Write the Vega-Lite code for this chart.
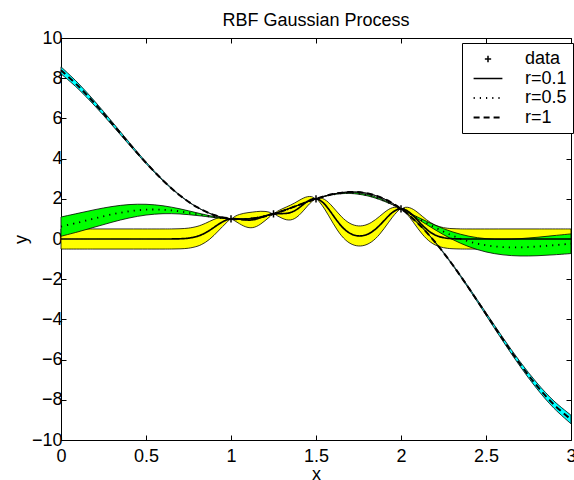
{
  "$schema": "https://vega.github.io/schema/vega-lite/v6.json",
  "width": 510,
  "height": 402,
  "autosize": {"type": "none"},
  "padding": {"left": 61, "top": 38, "right": 3, "bottom": 40},
  "background": "white",
  "title": {"text": "RBF Gaussian Process", "fontSize": 18, "font": "Liberation Sans", "fontWeight": "normal", "color": "black", "anchor": "middle", "baseline": "alphabetic", "offset": -15},
  "config": {
    "view": {"stroke": "black", "strokeWidth": 1},
    "font": "Liberation Sans",
    "axis": {"domain": false, "grid": false, "ticks": true, "tickSize": -5, "tickColor": "black", "tickWidth": 1, "labelFontSize": 18, "labelColor": "black", "labelFont": "Liberation Sans", "titleFontSize": 18, "titleFont": "Liberation Sans", "titleFontWeight": "normal", "titleColor": "black"}
  },
  "datasets": {
    "gp": [
      {"s": "r=0.1", "x": 0, "m": 0, "lo": -0.5, "hi": 0.5},
      {"s": "r=0.1", "x": 0.2, "m": 0, "lo": -0.5, "hi": 0.5},
      {"s": "r=0.1", "x": 0.4, "m": 0, "lo": -0.5, "hi": 0.5},
      {"s": "r=0.1", "x": 0.6, "m": 0, "lo": -0.5, "hi": 0.5},
      {"s": "r=0.1", "x": 0.65, "m": 0.002, "lo": -0.498, "hi": 0.502},
      {"s": "r=0.1", "x": 0.7, "m": 0.011, "lo": -0.489, "hi": 0.511},
      {"s": "r=0.1", "x": 0.75, "m": 0.042, "lo": -0.458, "hi": 0.542},
      {"s": "r=0.1", "x": 0.8, "m": 0.129, "lo": -0.366, "hi": 0.624},
      {"s": "r=0.1", "x": 0.825, "m": 0.206, "lo": -0.282, "hi": 0.694},
      {"s": "r=0.1", "x": 0.85, "m": 0.309, "lo": -0.164, "hi": 0.782},
      {"s": "r=0.1", "x": 0.875, "m": 0.436, "lo": -0.008, "hi": 0.881},
      {"s": "r=0.1", "x": 0.9, "m": 0.579, "lo": 0.182, "hi": 0.977},
      {"s": "r=0.1", "x": 0.925, "m": 0.724, "lo": 0.396, "hi": 1.052},
      {"s": "r=0.1", "x": 0.95, "m": 0.852, "lo": 0.616, "hi": 1.088},
      {"s": "r=0.1", "x": 0.975, "m": 0.947, "lo": 0.822, "hi": 1.072},
      {"s": "r=0.1", "x": 1.0, "m": 1.0, "lo": 1.0, "hi": 1.0},
      {"s": "r=0.1", "x": 1.025, "m": 1.011, "lo": 0.887, "hi": 1.135},
      {"s": "r=0.1", "x": 1.05, "m": 0.991, "lo": 0.76, "hi": 1.222},
      {"s": "r=0.1", "x": 1.075, "m": 0.961, "lo": 0.645, "hi": 1.276},
      {"s": "r=0.1", "x": 1.1, "m": 0.942, "lo": 0.573, "hi": 1.311},
      {"s": "r=0.1", "x": 1.125, "m": 0.951, "lo": 0.564, "hi": 1.338},
      {"s": "r=0.1", "x": 1.15, "m": 0.994, "lo": 0.625, "hi": 1.363},
      {"s": "r=0.1", "x": 1.175, "m": 1.063, "lo": 0.748, "hi": 1.379},
      {"s": "r=0.1", "x": 1.2, "m": 1.141, "lo": 0.91, "hi": 1.372},
      {"s": "r=0.1", "x": 1.225, "m": 1.209, "lo": 1.084, "hi": 1.334},
      {"s": "r=0.1", "x": 1.25, "m": 1.25, "lo": 1.25, "hi": 1.25},
      {"s": "r=0.1", "x": 1.275, "m": 1.265, "lo": 1.14, "hi": 1.39},
      {"s": "r=0.1", "x": 1.3, "m": 1.266, "lo": 1.035, "hi": 1.497},
      {"s": "r=0.1", "x": 1.325, "m": 1.275, "lo": 0.959, "hi": 1.591},
      {"s": "r=0.1", "x": 1.35, "m": 1.317, "lo": 0.948, "hi": 1.686},
      {"s": "r=0.1", "x": 1.375, "m": 1.408, "lo": 1.021, "hi": 1.795},
      {"s": "r=0.1", "x": 1.4, "m": 1.548, "lo": 1.179, "hi": 1.917},
      {"s": "r=0.1", "x": 1.425, "m": 1.716, "lo": 1.4, "hi": 2.032},
      {"s": "r=0.1", "x": 1.45, "m": 1.874, "lo": 1.643, "hi": 2.105},
      {"s": "r=0.1", "x": 1.475, "m": 1.98, "lo": 1.855, "hi": 2.105},
      {"s": "r=0.1", "x": 1.5, "m": 2.0, "lo": 2.0, "hi": 2.0},
      {"s": "r=0.1", "x": 1.525, "m": 1.917, "lo": 1.792, "hi": 2.042},
      {"s": "r=0.1", "x": 1.55, "m": 1.734, "lo": 1.498, "hi": 1.97},
      {"s": "r=0.1", "x": 1.575, "m": 1.479, "lo": 1.151, "hi": 1.807},
      {"s": "r=0.1", "x": 1.6, "m": 1.186, "lo": 0.789, "hi": 1.584},
      {"s": "r=0.1", "x": 1.625, "m": 0.896, "lo": 0.451, "hi": 1.341},
      {"s": "r=0.1", "x": 1.65, "m": 0.637, "lo": 0.164, "hi": 1.11},
      {"s": "r=0.1", "x": 1.675, "m": 0.43, "lo": -0.058, "hi": 0.918},
      {"s": "r=0.1", "x": 1.7, "m": 0.281, "lo": -0.214, "hi": 0.776},
      {"s": "r=0.1", "x": 1.725, "m": 0.19, "lo": -0.308, "hi": 0.688},
      {"s": "r=0.1", "x": 1.75, "m": 0.152, "lo": -0.347, "hi": 0.651},
      {"s": "r=0.1", "x": 1.775, "m": 0.164, "lo": -0.334, "hi": 0.662},
      {"s": "r=0.1", "x": 1.8, "m": 0.225, "lo": -0.27, "hi": 0.72},
      {"s": "r=0.1", "x": 1.825, "m": 0.335, "lo": -0.153, "hi": 0.823},
      {"s": "r=0.1", "x": 1.85, "m": 0.491, "lo": 0.018, "hi": 0.964},
      {"s": "r=0.1", "x": 1.875, "m": 0.688, "lo": 0.244, "hi": 1.133},
      {"s": "r=0.1", "x": 1.9, "m": 0.91, "lo": 0.513, "hi": 1.308},
      {"s": "r=0.1", "x": 1.925, "m": 1.132, "lo": 0.804, "hi": 1.46},
      {"s": "r=0.1", "x": 1.95, "m": 1.324, "lo": 1.089, "hi": 1.559},
      {"s": "r=0.1", "x": 1.975, "m": 1.454, "lo": 1.331, "hi": 1.577},
      {"s": "r=0.1", "x": 2.0, "m": 1.5, "lo": 1.5, "hi": 1.5},
      {"s": "r=0.1", "x": 2.025, "m": 1.454, "lo": 1.331, "hi": 1.577},
      {"s": "r=0.1", "x": 2.05, "m": 1.324, "lo": 1.089, "hi": 1.559},
      {"s": "r=0.1", "x": 2.075, "m": 1.132, "lo": 0.804, "hi": 1.46},
      {"s": "r=0.1", "x": 2.1, "m": 0.91, "lo": 0.513, "hi": 1.308},
      {"s": "r=0.1", "x": 2.125, "m": 0.687, "lo": 0.243, "hi": 1.132},
      {"s": "r=0.1", "x": 2.15, "m": 0.487, "lo": 0.014, "hi": 0.96},
      {"s": "r=0.1", "x": 2.175, "m": 0.325, "lo": -0.163, "hi": 0.813},
      {"s": "r=0.1", "x": 2.2, "m": 0.203, "lo": -0.292, "hi": 0.698},
      {"s": "r=0.1", "x": 2.225, "m": 0.119, "lo": -0.379, "hi": 0.617},
      {"s": "r=0.1", "x": 2.25, "m": 0.066, "lo": -0.433, "hi": 0.565},
      {"s": "r=0.1", "x": 2.275, "m": 0.034, "lo": -0.466, "hi": 0.534},
      {"s": "r=0.1", "x": 2.3, "m": 0.017, "lo": -0.483, "hi": 0.517},
      {"s": "r=0.1", "x": 2.35, "m": 0.003, "lo": -0.497, "hi": 0.503},
      {"s": "r=0.1", "x": 2.4, "m": 0, "lo": -0.5, "hi": 0.5},
      {"s": "r=0.1", "x": 2.6, "m": 0, "lo": -0.5, "hi": 0.5},
      {"s": "r=0.1", "x": 2.8, "m": 0, "lo": -0.5, "hi": 0.5},
      {"s": "r=0.1", "x": 3.0, "m": 0, "lo": -0.5, "hi": 0.5},
      {"s": "r=0.5", "x": 0, "m": 0.615, "lo": 0.136, "hi": 1.094},
      {"s": "r=0.5", "x": 0.1, "m": 0.817, "lo": 0.356, "hi": 1.278},
      {"s": "r=0.5", "x": 0.2, "m": 1.029, "lo": 0.597, "hi": 1.461},
      {"s": "r=0.5", "x": 0.3, "m": 1.225, "lo": 0.835, "hi": 1.615},
      {"s": "r=0.5", "x": 0.4, "m": 1.378, "lo": 1.044, "hi": 1.712},
      {"s": "r=0.5", "x": 0.5, "m": 1.459, "lo": 1.191, "hi": 1.727},
      {"s": "r=0.5", "x": 0.6, "m": 1.456, "lo": 1.259, "hi": 1.653},
      {"s": "r=0.5", "x": 0.7, "m": 1.372, "lo": 1.245, "hi": 1.499},
      {"s": "r=0.5", "x": 0.8, "m": 1.235, "lo": 1.168, "hi": 1.302},
      {"s": "r=0.5", "x": 0.9, "m": 1.092, "lo": 1.068, "hi": 1.116},
      {"s": "r=0.5", "x": 0.95, "m": 1.037, "lo": 1.025, "hi": 1.049},
      {"s": "r=0.5", "x": 1.0, "m": 1.0, "lo": 1.0, "hi": 1.0},
      {"s": "r=0.5", "x": 1.1, "m": 1.008, "lo": 1.001, "hi": 1.015},
      {"s": "r=0.5", "x": 1.2, "m": 1.14, "lo": 1.136, "hi": 1.144},
      {"s": "r=0.5", "x": 1.3, "m": 1.385, "lo": 1.382, "hi": 1.388},
      {"s": "r=0.5", "x": 1.4, "m": 1.696, "lo": 1.69, "hi": 1.702},
      {"s": "r=0.5", "x": 1.5, "m": 2.0, "lo": 2.0, "hi": 2.0},
      {"s": "r=0.5", "x": 1.6, "m": 2.22, "lo": 2.207, "hi": 2.233},
      {"s": "r=0.5", "x": 1.7, "m": 2.292, "lo": 2.265, "hi": 2.319},
      {"s": "r=0.5", "x": 1.8, "m": 2.185, "lo": 2.151, "hi": 2.219},
      {"s": "r=0.5", "x": 1.9, "m": 1.907, "lo": 1.88, "hi": 1.934},
      {"s": "r=0.5", "x": 2.0, "m": 1.5, "lo": 1.5, "hi": 1.5},
      {"s": "r=0.5", "x": 2.1, "m": 1.035, "lo": 0.987, "hi": 1.083},
      {"s": "r=0.5", "x": 2.2, "m": 0.574, "lo": 0.461, "hi": 0.687},
      {"s": "r=0.5", "x": 2.3, "m": 0.176, "lo": -0.01, "hi": 0.362},
      {"s": "r=0.5", "x": 2.4, "m": -0.124, "lo": -0.385, "hi": 0.137},
      {"s": "r=0.5", "x": 2.5, "m": -0.313, "lo": -0.643, "hi": 0.017},
      {"s": "r=0.5", "x": 2.6, "m": -0.403, "lo": -0.789, "hi": -0.017},
      {"s": "r=0.5", "x": 2.7, "m": -0.414, "lo": -0.844, "hi": 0.016},
      {"s": "r=0.5", "x": 2.8, "m": -0.374, "lo": -0.833, "hi": 0.085},
      {"s": "r=0.5", "x": 2.9, "m": -0.308, "lo": -0.786, "hi": 0.17},
      {"s": "r=0.5", "x": 3.0, "m": -0.235, "lo": -0.724, "hi": 0.254},
      {"s": "r=1", "x": 0, "m": 8.392, "lo": 8.217, "hi": 8.567},
      {"s": "r=1", "x": 0.1, "m": 7.62, "lo": 7.478, "hi": 7.762},
      {"s": "r=1", "x": 0.2, "m": 6.725, "lo": 6.613, "hi": 6.837},
      {"s": "r=1", "x": 0.3, "m": 5.753, "lo": 5.668, "hi": 5.838},
      {"s": "r=1", "x": 0.4, "m": 4.758, "lo": 4.697, "hi": 4.819},
      {"s": "r=1", "x": 0.5, "m": 3.793, "lo": 3.752, "hi": 3.834},
      {"s": "r=1", "x": 0.6, "m": 2.913, "lo": 2.888, "hi": 2.938},
      {"s": "r=1", "x": 0.7, "m": 2.164, "lo": 2.15, "hi": 2.178},
      {"s": "r=1", "x": 0.8, "m": 1.584, "lo": 1.578, "hi": 1.59},
      {"s": "r=1", "x": 0.9, "m": 1.194, "lo": 1.192, "hi": 1.196},
      {"s": "r=1", "x": 1.0, "m": 1.0, "lo": 1.0, "hi": 1.0},
      {"s": "r=1", "x": 1.1, "m": 0.99, "lo": 0.99, "hi": 0.99},
      {"s": "r=1", "x": 1.2, "m": 1.134, "lo": 1.134, "hi": 1.134},
      {"s": "r=1", "x": 1.3, "m": 1.388, "lo": 1.388, "hi": 1.388},
      {"s": "r=1", "x": 1.4, "m": 1.696, "lo": 1.696, "hi": 1.696},
      {"s": "r=1", "x": 1.5, "m": 2.0, "lo": 2.0, "hi": 2.0},
      {"s": "r=1", "x": 1.6, "m": 2.234, "lo": 2.234, "hi": 2.234},
      {"s": "r=1", "x": 1.7, "m": 2.342, "lo": 2.342, "hi": 2.342},
      {"s": "r=1", "x": 1.8, "m": 2.275, "lo": 2.275, "hi": 2.275},
      {"s": "r=1", "x": 1.9, "m": 2.0, "lo": 2.0, "hi": 2.0},
      {"s": "r=1", "x": 2.0, "m": 1.5, "lo": 1.5, "hi": 1.5},
      {"s": "r=1", "x": 2.1, "m": 0.777, "lo": 0.773, "hi": 0.781},
      {"s": "r=1", "x": 2.2, "m": -0.149, "lo": -0.162, "hi": -0.136},
      {"s": "r=1", "x": 2.3, "m": -1.243, "lo": -1.268, "hi": -1.218},
      {"s": "r=1", "x": 2.4, "m": -2.456, "lo": -2.497, "hi": -2.415},
      {"s": "r=1", "x": 2.5, "m": -3.729, "lo": -3.792, "hi": -3.666},
      {"s": "r=1", "x": 2.6, "m": -5.003, "lo": -5.09, "hi": -4.916},
      {"s": "r=1", "x": 2.7, "m": -6.214, "lo": -6.33, "hi": -6.098},
      {"s": "r=1", "x": 2.8, "m": -7.31, "lo": -7.457, "hi": -7.163},
      {"s": "r=1", "x": 2.9, "m": -8.243, "lo": -8.423, "hi": -8.063},
      {"s": "r=1", "x": 3.0, "m": -8.977, "lo": -9.192, "hi": -8.762}
    ],
    "pts": [
      {"s": "data", "x": 1.0, "y": 1.0},
      {"s": "data", "x": 1.25, "y": 1.25},
      {"s": "data", "x": 1.5, "y": 2.0},
      {"s": "data", "x": 2.0, "y": 1.5}
    ]
  },
  "layer": [
    {
      "data": {"name": "gp"},
      "transform": [{"filter": "datum.s === 'r=0.1'"}],
      "mark": {"type": "area", "fill": "#ffff00", "fillOpacity": 1, "stroke": "black", "strokeWidth": 0.8, "interpolate": "catmull-rom"},
      "encoding": {
        "x": {"field": "x", "type": "quantitative", "scale": {"domain": [0, 3], "nice": false, "zero": false},
              "axis": {"orient": "bottom", "values": [0, 0.5, 1, 1.5, 2, 2.5, 3], "format": "~g", "title": "x", "labelPadding": 12, "titlePadding": 0, "labelFlush": false}},
        "y": {"field": "lo", "type": "quantitative", "scale": {"domain": [-10, 10], "nice": false, "zero": false},
              "axis": {"orient": "left", "values": [-10, -8, -6, -4, -2, 0, 2, 4, 6, 8, 10], "title": "y", "labelPadding": 4, "titlePadding": 1, "labelFlush": false}},
        "y2": {"field": "hi"}
      }
    },
    {
      "data": {"name": "gp"},
      "transform": [{"filter": "datum.s === 'r=0.5'"}],
      "mark": {"type": "area", "fill": "#00ff00", "fillOpacity": 1, "stroke": "black", "strokeWidth": 0.8, "interpolate": "catmull-rom"},
      "encoding": {
        "x": {"field": "x", "type": "quantitative", "scale": {"domain": [0, 3], "nice": false, "zero": false},
              "axis": {"orient": "top", "values": [0, 0.5, 1, 1.5, 2, 2.5, 3], "labels": false, "title": null}},
        "y": {"field": "lo", "type": "quantitative", "scale": {"domain": [-10, 10], "nice": false, "zero": false},
              "axis": {"orient": "right", "values": [-10, -8, -6, -4, -2, 0, 2, 4, 6, 8, 10], "labels": false, "title": null}},
        "y2": {"field": "hi"}
      }
    },
    {
      "data": {"name": "gp"},
      "transform": [{"filter": "datum.s === 'r=1'"}],
      "mark": {"type": "area", "fill": "#00ffff", "fillOpacity": 1, "stroke": "black", "strokeWidth": 0.8, "interpolate": "catmull-rom"},
      "encoding": {
        "x": {"field": "x", "type": "quantitative", "scale": {"domain": [0, 3], "nice": false, "zero": false}, "axis": null},
        "y": {"field": "lo", "type": "quantitative", "scale": {"domain": [-10, 10], "nice": false, "zero": false}, "axis": null},
        "y2": {"field": "hi"}
      }
    },
    {
      "data": {"name": "gp"},
      "mark": {"type": "line", "color": "black", "interpolate": "catmull-rom"},
      "encoding": {
        "x": {"field": "x", "type": "quantitative", "scale": {"domain": [0, 3], "nice": false, "zero": false}, "axis": null},
        "y": {"field": "m", "type": "quantitative", "scale": {"domain": [-10, 10], "nice": false, "zero": false}, "axis": null},
        "strokeWidth": {"field": "s", "type": "nominal", "scale": {"domain": ["data", "r=0.1", "r=0.5", "r=1"], "range": [1.5, 2, 1.5, 2]}, "legend": null},
        "strokeDash": {"field": "s", "type": "nominal",
          "scale": {"domain": ["data", "r=0.1", "r=0.5", "r=1"], "range": [[1, 0], [1, 0], [1.2, 5], [6, 4]]},
          "legend": {"orient": "none", "legendX": 401, "legendY": 5, "title": null, "strokeColor": "black", "fillColor": "white", "padding": 6, "labelFontSize": 18, "labelFont": "Liberation Sans", "labelColor": "black", "labelOffset": 27, "labelExpr": "datum.label + '\u00a0'", "symbolSize": 324, "symbolOffset": 10, "symbolStrokeColor": "black", "symbolStrokeWidth": 2, "rowPadding": 0.5}
        }
      }
    },
    {
      "data": {"name": "pts"},
      "mark": {"type": "point", "size": 441, "color": "black", "strokeWidth": 1.5, "filled": false, "opacity": 1},
      "encoding": {
        "x": {"field": "x", "type": "quantitative", "scale": {"domain": [0, 3], "nice": false, "zero": false}, "axis": null},
        "y": {"field": "y", "type": "quantitative", "scale": {"domain": [-10, 10], "nice": false, "zero": false}, "axis": null},
        "shape": {"field": "s", "type": "nominal",
          "scale": {"domain": ["data", "r=0.1", "r=0.5", "r=1"], "range": ["M-0.35,0H0.35M0,-0.35V0.35", "M-1.6,0H1.6", "M-1.6,0H1.6", "M-1.6,0H1.6"]},
          "legend": {"orient": "none", "legendX": 401, "legendY": 5, "title": null, "strokeColor": "black", "fillColor": "white", "padding": 6, "labelFontSize": 18, "labelFont": "Liberation Sans", "labelColor": "black", "labelOffset": 27, "labelExpr": "datum.label + '\u00a0'", "symbolSize": 324, "symbolOffset": 10, "symbolStrokeColor": "black", "symbolStrokeWidth": 2, "rowPadding": 0.5}},
        "strokeDash": {"field": "s", "type": "nominal",
          "scale": {"domain": ["data", "r=0.1", "r=0.5", "r=1"], "range": [[1, 0], [1, 0], [1.2, 5], [6, 4]]},
          "legend": {"orient": "none", "legendX": 401, "legendY": 5, "title": null, "strokeColor": "black", "fillColor": "white", "padding": 6, "labelFontSize": 18, "labelFont": "Liberation Sans", "labelColor": "black", "labelOffset": 27, "labelExpr": "datum.label + '\u00a0'", "symbolSize": 324, "symbolOffset": 10, "symbolStrokeColor": "black", "symbolStrokeWidth": 2, "rowPadding": 0.5}}
      }
    }
  ],
  "resolve": {"axis": {"x": "independent", "y": "independent"}}
}
